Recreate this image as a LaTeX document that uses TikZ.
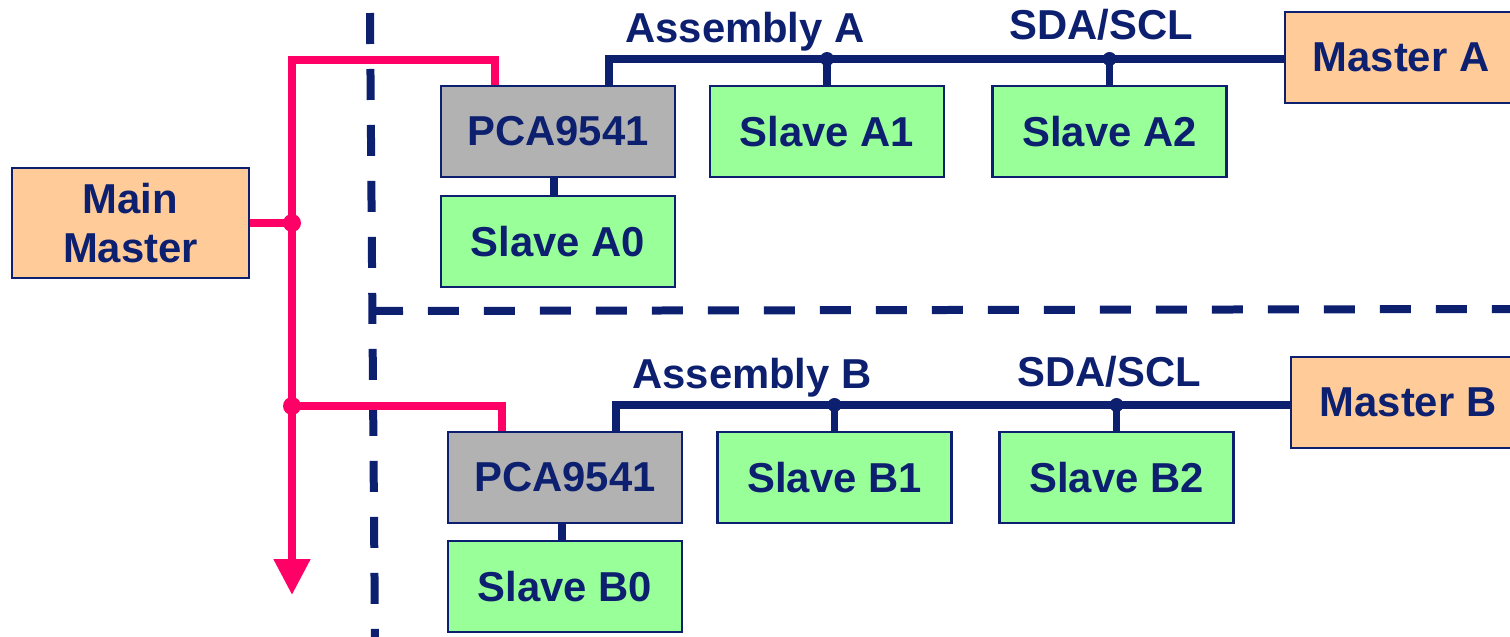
\documentclass[tikz,border=0pt]{standalone}
\usepackage{fontspec}
\setmainfont{Liberation Sans}
\usetikzlibrary{arrows.meta}
\definecolor{navy}{HTML}{0D2070}
\definecolor{hot}{HTML}{FF0066}
\definecolor{peach}{HTML}{FFCC99}
\definecolor{lgreen}{HTML}{99FF99}
\definecolor{lgray}{HTML}{B2B2B2}
\tikzset{
  lab/.style={text=navy, font=\bfseries\fontsize{23.8}{28.3}\selectfont},
  box/.style={lab, draw=navy, line width=1.2pt, inner sep=0pt, minimum width=4.68cm, minimum height=1.82cm, align=center},
  slavebox/.style={box, fill=lgreen},
  muxbox/.style={box, fill=lgray},
  masterbox/.style={box, fill=peach},
  bus/.style={draw=navy, line width=0.16cm},
  drop/.style={draw=navy, line width=0.15cm},
  pinkline/.style={draw=hot, line width=0.16cm, line join=miter},
  divider/.style={draw=navy, line width=0.16cm, dash pattern=on 0.62cm off 0.5cm},
  busdot/.style={fill=navy},
  pinkdot/.style={fill=hot}
}
\begin{document}
\begin{tikzpicture}[x=0.02cm, y=-0.02cm]
\clip (0,0) rectangle (1510,636);
\fill[white] (0,0) rectangle (1510,636);

% dividers
\coordinate (vt) at (370,13);
\coordinate (vb) at (375,640);
\coordinate (hl) at (372,311);
\coordinate (hr) at (1515,309);
\draw[divider] (vt) -- (vb);
\draw[divider] (hl) -- (hr);

% boxes
\node[masterbox, minimum width=4.74cm, minimum height=2.2cm] (main) at (130.5,223) {Main\\Master};
\node[muxbox] (pcaA) at (558,131.5) {PCA9541};
\node[slavebox] (a0) at (558,241.5) {Slave A0};
\node[slavebox] (a1) at (827,131.5) {Slave A1};
\node[slavebox] (a2) at (1109.5,131.5) {Slave A2};
\node[masterbox, minimum width=4.64cm] (masterA) at (1401,57.5) {Master A};

\node[muxbox] (pcaB) at (565,477.5) {PCA9541};
\node[slavebox] (b0) at (565,586.5) {Slave B0};
\node[slavebox] (b1) at (834.5,477.5) {Slave B1};
\node[slavebox] (b2) at (1116.5,477.5) {Slave B2};
\node[masterbox, minimum width=4.68cm] (masterB) at (1408,402.5) {Master B};

% labels
\node[lab, anchor=base] (asmA) at (745,42) {Assembly A};
\node[lab, anchor=base] (sdaA) at (1101,39) {SDA/SCL};
\node[lab, anchor=base] (asmB) at (752,388) {Assembly B};
\node[lab, anchor=base] (sdaB) at (1109,386) {SDA/SCL};

% bus A
\coordinate (busAL) at (609,59);
\draw[bus] (busAL |- pcaA.north) -- (busAL) -- (busAL -| masterA.west);
\draw[drop] (a1.north) -- (a1.north |- busAL);
\draw[drop] (a2.north) -- (a2.north |- busAL);
\fill[busdot] (a1.north |- busAL) circle (0.14cm);
\fill[busdot] (a2.north |- busAL) circle (0.14cm);
\draw[drop] ([xshift=-0.08cm]pcaA.south) -- ([xshift=-0.08cm]a0.north);

% bus B
\coordinate (busBL) at (616,405);
\draw[bus] (busBL |- pcaB.north) -- (busBL) -- (busBL -| masterB.west);
\draw[drop] (b1.north) -- (b1.north |- busBL);
\draw[drop] (b2.north) -- (b2.north |- busBL);
\fill[busdot] (b1.north |- busBL) circle (0.14cm);
\fill[busdot] (b2.north |- busBL) circle (0.14cm);
\draw[drop] ([xshift=-0.06cm]pcaB.south) -- ([xshift=-0.06cm]b0.north);

% pink control lines
\coordinate (ptop) at (292,60);
\coordinate (pA) at (495,60);
\coordinate (pB) at (502,406);
\coordinate (pend) at (292,595);
\draw[pinkline, -{Triangle[width=0.7cm, length=0.72cm]}] (pA |- pcaA.north) -- (pA) -- (ptop) -- (pend);
\draw[pinkline] (main.east) -- (main.east -| ptop);
\draw[pinkline] (ptop |- pB) -- (pB) -- (pB |- pcaB.north);
\fill[pinkdot] (main.east -| ptop) circle (0.18cm);
\fill[pinkdot] (ptop |- pB) circle (0.18cm);
\end{tikzpicture}
\end{document}
